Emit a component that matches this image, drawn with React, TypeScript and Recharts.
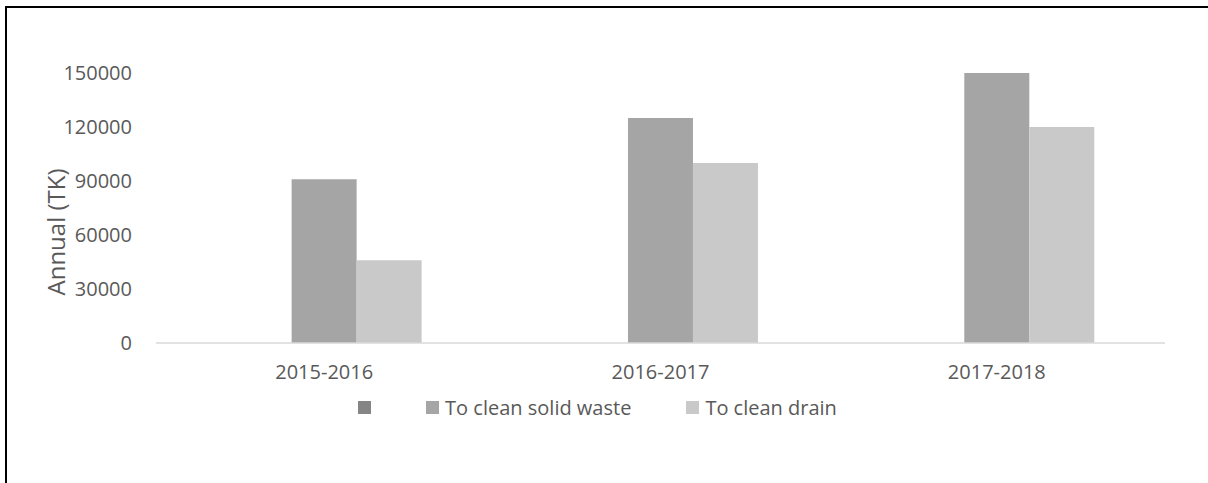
import { BarChart, Bar, XAxis, YAxis, Legend } from "recharts";

// fiscal years on the x axis
const years = ["2015-2016", "2016-2017", "2017-2018"];
// first series has no label and no values in the source chart
const blankSeries = [0, 0, 0];
const solidWaste = [91000, 125000, 150000];
const drain = [46000, 100000, 120000];
const yTicks = [0, 30000, 60000, 90000, 120000, 150000];
const seriesNames = [" ", "To clean solid waste", "To clean drain"];

const data = years.map((year, i) => ({
  year,
  blank: blankSeries[i],
  solidWaste: solidWaste[i],
  drain: drain[i],
}));

const FONT = "'Open Sans', 'Noto Sans', sans-serif";
const TEXT = "#595959";

function YLabel(props: any) {
  const { x, y, height } = props.viewBox;
  const cx = x + 55;
  const cy = y + height / 2 + 24;
  return (
    <text
      x={cx}
      y={cy}
      transform={`rotate(-90, ${cx}, ${cy})`}
      textAnchor="middle"
      dominantBaseline="central"
      fill={TEXT}
      fontSize={24}
      fontFamily={FONT}
    >
      Annual (TK)
    </text>
  );
}

function LegendContent(props: any) {
  // keep series order instead of the default alphabetical one
  const payload = [...(props.payload || [])].sort(
    (a: any, b: any) => seriesNames.indexOf(a.value) - seriesNames.indexOf(b.value)
  );
  return (
    <div
      style={{
        display: "flex",
        justifyContent: "center",
        alignItems: "center",
        height: 24,
        paddingRight: 13,
        fontFamily: FONT,
        fontSize: 20,
        color: TEXT,
      }}
    >
      {payload.map((entry: any, i: number) => (
        <div key={i} style={{ display: "flex", alignItems: "center", marginRight: i < payload.length - 1 ? 55 : 0 }}>
          <span style={{ width: 13, height: 13, background: entry.color, display: "inline-block" }} />
          {entry.value.trim() && <span style={{ marginLeft: 6 }}>{entry.value}</span>}
        </div>
      ))}
    </div>
  );
}

export default function App() {
  return (
    <div style={{ position: "absolute", left: 0, top: 0, width: 1208, height: 483, background: "#fff" }}>
      <div
        style={{
          position: "absolute",
          left: 5,
          top: 6,
          width: 1201,
          height: 475,
          borderTop: "2px solid #000",
          borderLeft: "2px solid #000",
        }}
      />
      <BarChart
        width={1208}
        height={483}
        data={data}
        margin={{ top: 73, right: 43, left: 0, bottom: 76 }}
        barCategoryGap="21%"
        barGap={0}
      >
        <XAxis
          dataKey="year"
          height={40}
          axisLine={{ stroke: "#D9D9D9", strokeWidth: 1.5 }}
          tickLine={false}
          tickMargin={16}
          tick={{ fill: TEXT, fontSize: 20, fontFamily: FONT }}
        />
        <YAxis
          width={156}
          domain={[0, 150000]}
          ticks={yTicks}
          axisLine={false}
          tickLine={false}
          tickMargin={18}
          tick={{ fill: TEXT, fontSize: 20, fontFamily: FONT }}
          label={<YLabel />}
        />
        <Legend
          verticalAlign="bottom"
          content={<LegendContent />}
          wrapperStyle={{ left: 0, width: 1208, bottom: 64 }}
        />
        <Bar dataKey="blank" name={seriesNames[0]} fill="#858585" isAnimationActive={false} />
        <Bar dataKey="solidWaste" name={seriesNames[1]} fill="#A5A5A5" isAnimationActive={false} />
        <Bar dataKey="drain" name={seriesNames[2]} fill="#C9C9C9" isAnimationActive={false} />
      </BarChart>
    </div>
  );
}
